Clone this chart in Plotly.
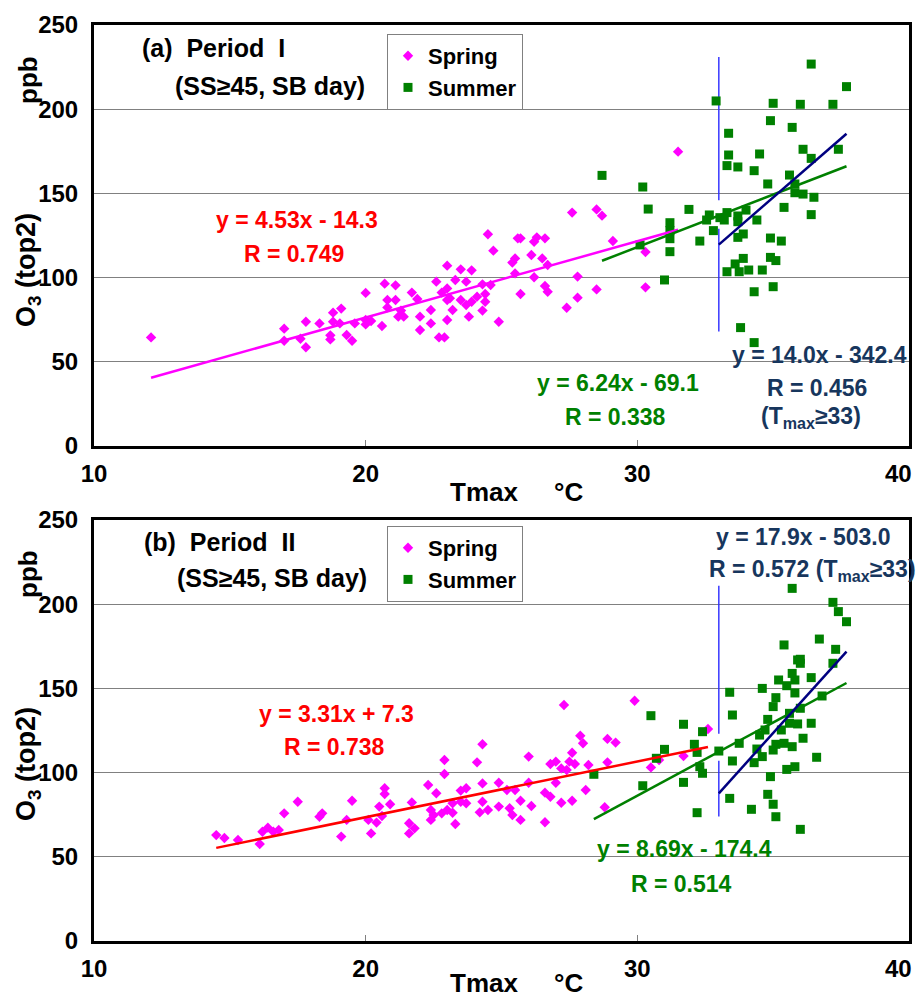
import plotly.graph_objects as go

W, H = 919, 998

# ---------------- Period I ----------------
spring1_t = [12.1, 17.0, 17.0, 17.6, 17.8, 17.8, 18.3, 18.8, 18.8, 18.7,
             18.7, 19.1, 19.05, 19.3, 19.5, 19.6, 20.0, 20.0, 20.0, 20.2,
             20.6, 20.7, 21.1, 20.8, 21.1, 20.8, 21.3, 21.2, 21.4, 21.7,
             21.9, 22.0, 22.0, 22.4, 22.4, 22.6, 22.7, 22.9, 22.8, 23.0,
             23.0, 23.0, 23.0, 23.1, 23.2, 23.3, 23.5, 23.5, 23.7, 23.7,
             23.8, 23.9, 23.9, 24.1, 24.3, 24.3, 24.4, 24.4, 24.5, 24.7,
             24.6, 24.9, 25.5, 25.4, 25.6, 25.7, 25.5, 25.7, 26.1, 26.2,
             26.3, 26.6, 26.2, 26.5, 26.7, 26.6, 26.7, 27.4, 27.8, 27.8,
             27.6, 28.5, 28.7, 28.5, 29.1, 30.3, 30.3, 31.5]
spring1_o3 = [64.5, 69.7, 62.5, 63.7, 73.8, 58.6, 72.8, 79.2, 73.8, 65.7,
              63.3, 81.6, 72.8, 65.9, 62.5, 72.8, 90.9, 74.8, 72.2, 74.2,
              71.3, 96.4, 95.4, 86.7, 86.7, 82.3, 80.4, 76.8, 76.8, 91.1,
              87.3, 76.8, 68.9, 80.8, 72.8, 97.6, 64.5, 64.5, 91.1, 107.1,
              93.6, 86.7, 74.8, 87.7, 80.8, 98.6, 104.9, 86.7, 97.6, 83.7,
              76.8, 104.3, 85.7, 88.7, 96.0, 80.4, 90.3, 85.7, 125.7, 116.0,
              95.6, 73.8, 111.4, 108.9, 123.3, 123.3, 102.5, 90.3, 113.4, 121.3,
              123.9, 123.3, 100.2, 111.4, 107.5, 95.0, 91.6, 82.1, 100.6, 88.1,
              138.6, 140.5, 136.8, 93.0, 121.7, 115.2, 94.2, 174.8]

summer1_t = [28.7, 30.2, 30.4, 30.1, 31.2, 31.2, 31.2, 31.2, 31.0, 31.9,
             32.3, 32.65, 32.55, 32.8, 32.9, 33.04, 33.2, 33.3, 33.36, 33.36,
             33.3, 33.7, 33.7, 33.7, 33.7, 33.9, 33.9, 33.6, 33.3, 33.75,
             34.1, 34.0, 34.3, 34.5, 34.4, 34.3, 33.8, 34.3, 34.6, 34.8,
             35.0, 34.9, 34.9, 34.9, 35.1, 35.0, 35.3, 35.4, 35.6, 35.7,
             35.8, 35.8, 36.0, 36.1, 36.1, 36.4, 36.4, 36.5, 36.4, 37.2,
             37.4, 37.7]
summer1_o3 = [160.7, 153.8, 140.7, 119.4, 132.6, 127.9, 123.1, 115.4, 98.6, 140.5,
              121.7, 137.2, 134.2, 127.9, 204.9, 135.6, 134.2, 138.6, 185.7, 172.8,
              166.5, 165.7, 133.2, 136.6, 123.9, 125.9, 111.4, 108.1, 103.5, 103.5,
              104.5, 140.1, 163.5, 173.4, 134.2, 91.6, 70.3, 61.4, 104.5, 155.6,
              203.5, 193.2, 123.5, 112.0, 110.1, 94.6, 121.7, 141.7, 160.9, 189.2,
              155.6, 150.4, 202.9, 176.2, 149.6, 170.8, 226.8, 147.7, 137.4, 202.9,
              176.2, 213.4]

# ---------------- Period II ----------------
spring2_t = [14.5, 14.8, 15.3, 16.1, 16.2, 16.4, 16.6, 16.8, 17.0, 17.5,
             18.3, 18.4, 19.1, 19.3, 19.5, 20.1, 20.2, 20.4, 20.5, 20.6,
             20.7, 20.7, 20.9, 21.6, 21.6, 21.8, 21.7, 22.3, 22.4, 22.4,
             22.5, 22.6, 22.8, 22.9, 22.9, 23.0, 23.2, 23.2, 23.3, 23.5,
             23.5, 23.7, 23.7, 24.1, 24.3, 24.3, 24.3, 24.2, 24.5, 24.9,
             24.9, 25.2, 25.5, 25.3, 25.4, 25.7, 25.7, 26.0, 26.0, 26.1,
             26.6, 26.8, 26.8, 27.0, 27.0, 26.6, 27.2, 27.2, 27.3, 27.4,
             27.5, 27.6, 27.6, 27.7, 27.9, 28.0, 28.1, 28.2, 28.9, 28.9,
             29.2, 28.8, 29.9, 30.5, 30.8, 31.7, 32.6]
spring2_o3 = [62.9, 61.2, 60.0, 57.6, 64.9, 67.3, 64.9, 65.9, 75.8, 82.7,
              73.8, 75.8, 62.0, 71.9, 83.3, 71.9, 63.9, 70.3, 79.8, 74.2,
              90.7, 87.3, 81.2, 63.9, 69.9, 66.9, 82.3, 92.6, 77.8, 71.9,
              74.8, 87.7, 75.8, 107.5, 99.2, 77.8, 81.8, 76.2, 69.5, 89.3,
              82.7, 90.7, 81.8, 106.1, 116.8, 93.6, 82.7, 76.4, 77.8, 94.0,
              79.8, 89.7, 89.7, 78.8, 74.8, 83.3, 71.9, 109.5, 94.0, 80.2,
              88.1, 85.7, 105.1, 106.5, 94.0, 70.5, 102.5, 82.1, 140.1, 101.5,
              106.5, 111.8, 83.3, 105.1, 121.9, 117.4, 89.7, 104.5, 120.0, 106.1,
              117.8, 79.4, 142.7, 103.1, 107.5, 109.9, 125.9]

summer2_t = [28.4, 30.2, 30.5, 30.7, 31.0, 31.7, 31.7, 32.1, 32.2, 32.2,
             32.3, 32.4, 32.4, 33.0, 33.4, 33.5, 33.5, 33.4, 33.75, 34.2,
             34.3, 34.4, 34.5, 34.6, 34.6, 34.7, 34.8, 34.8, 34.9, 35.0,
             35.0, 35.1, 35.1, 35.0, 35.1, 35.2, 35.3, 35.4, 35.4, 35.5,
             35.5, 35.6, 35.6, 35.7, 35.7, 35.8, 35.8, 35.8, 35.7, 35.9,
             35.9, 36.0, 36.0, 36.0, 36.1, 36.0, 36.4, 36.4, 36.6, 36.7,
             36.8, 37.2, 37.2, 37.3, 37.4, 37.7]
summer2_o3 = [99.0, 92.2, 133.8, 108.5, 113.8, 128.7, 94.2, 116.8, 112.0, 76.2,
              103.5, 99.6, 124.3, 112.8, 147.7, 134.2, 106.9, 84.7, 117.4, 78.2,
              105.9, 114.0, 122.3, 150.0, 109.5, 125.3, 131.6, 87.1, 97.6, 81.2,
              139.2, 144.5, 73.8, 113.4, 116.8, 155.0, 125.3, 175.8, 117.4, 101.9,
              151.6, 135.2, 129.3, 115.4, 158.9, 155.0, 147.3, 103.5, 209.4, 166.9,
              128.9, 138.2, 66.3, 167.3, 120.4, 164.9, 156.4, 129.3, 109.1, 179.3,
              145.5, 201.1, 164.9, 173.2, 195.6, 189.6]

# linear fits (slope, intercept)
fit1_spring = (4.53, -14.3)
fit1_summer = (6.24, -69.1)
fit1_hot = (14.0, -342.4)
fit2_spring = (3.31, 7.3)
fit2_summer = (8.69, -174.4)
fit2_hot = (17.9, -503.0)
T_SPLIT = 33

# extent of the Tmax = 33 marker line in each panel (ppb)
split1_y = [231, 146, None, 129, 68]
split2_y = [211, 123, None, 107, 74]

x_ticks = [10, 20, 30, 40]
x_tick_text = ["10", "20", "30", ""]   # the last label is set inside the frame edge below
y_ticks = [0, 50, 100, 150, 200, 250]

MAGENTA = "#FF00FF"
GREEN = "#008000"
RED = "#FF0000"
NAVY = "#000080"
NAVY_TXT = "#17365D"
BLUE = "#2A2AFF"
FONT = "Arial, Liberation Sans, sans-serif"


def fit_line(coef, x0, x1):
    a, b = coef
    return [x0, x1], [a * x0 + b, a * x1 + b]


def px(x, y):
    """pixel position -> paper coordinates"""
    return x / W, 1 - y / H


fig = go.Figure()


def add_panel(xa, ya, leg, s_t, s_o3, u_t, u_o3, f_sp, f_su, f_hot, sp_col, split_y):
    # Tmax = 33 reference line
    fig.add_trace(go.Scatter(x=[T_SPLIT, T_SPLIT, None, T_SPLIT, T_SPLIT], y=split_y,
                             mode="lines", line=dict(color=BLUE, width=1.4),
                             xaxis=xa, yaxis=ya, showlegend=False, hoverinfo="skip"))
    fig.add_trace(go.Scatter(x=s_t, y=s_o3, mode="markers", name="Spring",
                             marker=dict(symbol="diamond", size=8, color=MAGENTA),
                             xaxis=xa, yaxis=ya, legend=leg))
    fig.add_trace(go.Scatter(x=u_t, y=u_o3, mode="markers", name="Summer",
                             marker=dict(symbol="square", size=9, color=GREEN),
                             xaxis=xa, yaxis=ya, legend=leg))
    lx, ly = fit_line(f_sp, min(s_t), max(s_t))
    fig.add_trace(go.Scatter(x=lx, y=ly, mode="lines", line=dict(color=sp_col, width=2.5),
                             xaxis=xa, yaxis=ya, showlegend=False))
    lx, ly = fit_line(f_su, min(u_t), max(u_t))
    fig.add_trace(go.Scatter(x=lx, y=ly, mode="lines", line=dict(color=GREEN, width=2.5),
                             xaxis=xa, yaxis=ya, showlegend=False))
    lx, ly = fit_line(f_hot, T_SPLIT, max(u_t))
    fig.add_trace(go.Scatter(x=lx, y=ly, mode="lines", line=dict(color=NAVY, width=2.5),
                             xaxis=xa, yaxis=ya, showlegend=False))


add_panel("x", "y", "legend", spring1_t, spring1_o3, summer1_t, summer1_o3,
          fit1_spring, fit1_summer, fit1_hot, MAGENTA, split1_y)
add_panel("x2", "y2", "legend2", spring2_t, spring2_o3, summer2_t, summer2_o3,
          fit2_spring, fit2_summer, fit2_hot, RED, split2_y)

tickfont = dict(family=FONT, size=24, color="black", weight="bold")
xax = dict(range=[10, 40], tickvals=x_ticks, ticktext=x_tick_text, ticks="inside",
           ticklen=6, tickcolor="#808080",
           showline=True, mirror=True, linecolor="black", linewidth=3, showgrid=False,
           zeroline=False, tickfont=tickfont, ticklabelstandoff=4,
           ticklabeloverflow="allow", automargin=False)
yax = dict(range=[0, 250], tickvals=y_ticks, ticks="", showline=True, mirror=True,
           linecolor="black", linewidth=3, showgrid=True, gridcolor="#808080", gridwidth=1,
           zeroline=False, tickfont=tickfont, ticklabelstandoff=8,
           ticklabeloverflow="allow", automargin=False)

fig.update_layout(
    width=W, height=H, margin=dict(l=0, r=0, t=0, b=0, autoexpand=False),
    plot_bgcolor="white", paper_bgcolor="white",
    xaxis=dict(xax, domain=[94 / W, 909 / W], anchor="y"),
    yaxis=dict(yax, domain=[1 - 446 / H, 1 - 25 / H], anchor="x"),
    xaxis2=dict(xax, domain=[94 / W, 909 / W], anchor="y2"),
    yaxis2=dict(yax, domain=[1 - 941 / H, 1 - 520 / H], anchor="x2"),
)

legfont = dict(family=FONT, size=22, color="black", weight="bold")
for key, top in (("legend", 34), ("legend2", 526)):
    lx, ly = px(387, top)
    fig.update_layout({key: dict(x=lx, y=ly, xanchor="left", yanchor="top",
                                 bordercolor="#808080", borderwidth=1, bgcolor="white",
                                 font=legfont, tracegroupgap=0)})


def note(text, x, y, color="black", size=23, angle=0):
    ax, ay = px(x, y)
    fig.add_annotation(text=text, x=ax, y=ay, xref="paper", yref="paper",
                       showarrow=False, textangle=angle, xanchor="center", yanchor="middle",
                       font=dict(family=FONT, size=size, color=color, weight="bold"))


# panel titles
note("(a)  Period  I", 213, 48, size=25)
note("(SS≥45, SB day)", 270, 86, size=25)
note("(b)  Period  II", 219, 542, size=25)
note("(SS≥45, SB day)", 272, 578, size=25)

# fit labels, period I
note("y = 4.53x - 14.3", 297, 220, RED)
note("R = 0.749", 294, 254, RED)
note("y = 6.24x - 69.1", 618, 383, GREEN)
note("R = 0.338", 615, 417, GREEN)
note("y = 14.0x - 342.4", 819, 355, NAVY_TXT)
note("R = 0.456", 817, 388, NAVY_TXT)
note("(T<sub>max</sub>≥33)", 811, 417, NAVY_TXT)

# fit labels, period II
note("y = 3.31x + 7.3", 336, 714, RED)
note("R = 0.738", 334, 747, RED)
note("y = 8.69x - 174.4", 684, 849, GREEN)
note("R = 0.514", 681, 884, GREEN)
note("y = 17.9x - 503.0", 803, 537, NAVY_TXT)
note("R = 0.572 (T<sub>max</sub>≥33)", 812, 570, NAVY_TXT)

# "40" tick label, kept inside the right frame edge
note("40", 898, 473, size=24)
note("40", 898, 968, size=24)

# axis titles
for ty in (492, 983):
    note("Tmax", 484, ty, size=26)
    note("°C", 568, ty, size=26)
for off in (0, 494):
    note("ppb", 28, 80 + off, size=26, angle=-90)
    note("O<sub>3</sub> (top2)", 28, 270 + off, size=27, angle=-90)

fig.write_html("out.html")
